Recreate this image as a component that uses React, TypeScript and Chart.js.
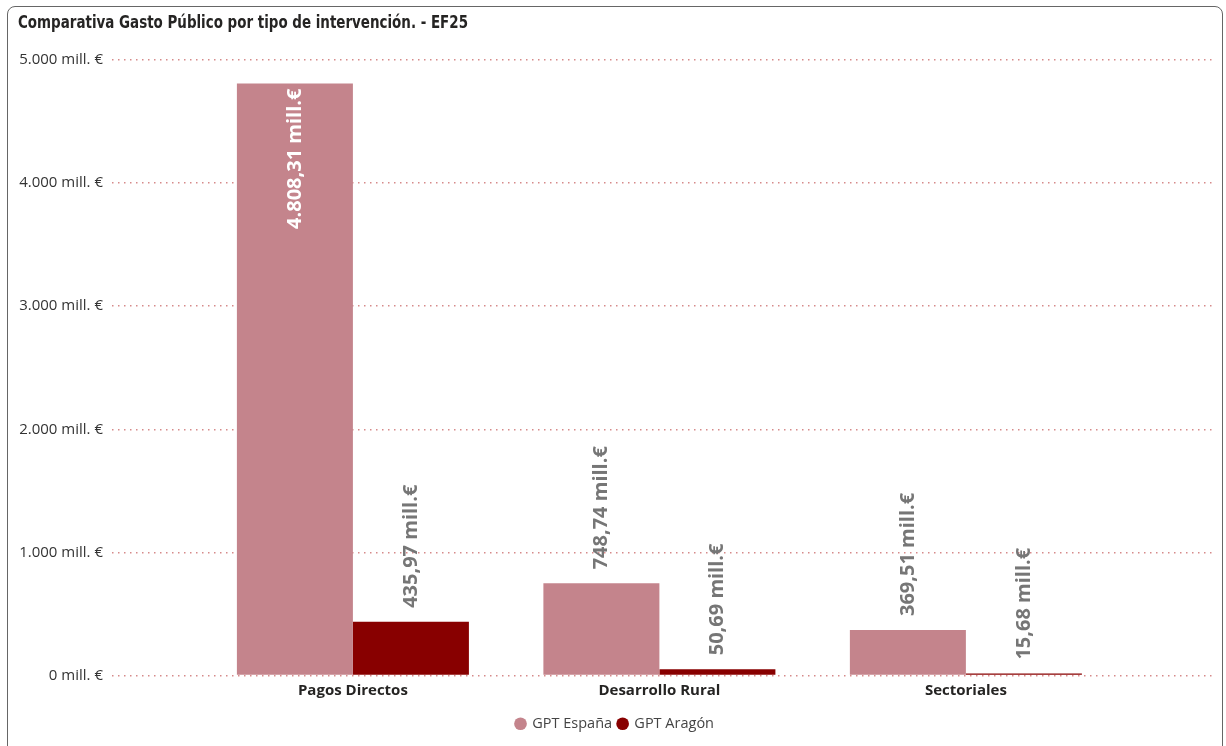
import React, { useEffect, useRef } from "react";
import { Chart, registerables } from "chart.js";
Chart.register(...registerables);

const titleText = "Comparativa Gasto Público por tipo de intervención. - EF25";
const categories = ["Pagos Directos", "Desarrollo Rural", "Sectoriales"];
const seriesNames = ["GPT España", "GPT Aragón"];
const gptEspana = [4808.31, 748.74, 369.51];
const gptAragon = [435.97, 50.69, 15.68];
const yTicks = [0, 1000, 2000, 3000, 4000, 5000];
const seriesColors = ["#c4848c", "#880000"];

function fmt(v: number, decimals: number): string {
  const fixed = v.toFixed(decimals);
  const parts = fixed.split(".");
  const intG = parts[0].replace(/\B(?=(\d{3})+(?!\d))/g, ".");
  return parts[1] ? intG + "," + parts[1] : intG;
}

const LABEL_FONT = "bold 20px 'Open Sans', sans-serif";

const barLabels = {
  id: "barLabels",
  afterDatasetsDraw(chart: any) {
    const ctx = chart.ctx;
    const area = chart.chartArea;
    ctx.save();
    ctx.font = LABEL_FONT;
    chart.data.datasets.forEach((ds: any, di: number) => {
      const meta = chart.getDatasetMeta(di);
      meta.data.forEach((el: any, i: number) => {
        const v = ds.data[i].y;
        const text = fmt(v, 2) + " mill.€";
        const w = ctx.measureText(text).width;
        const gap = 14;
        const x = el.x;
        const top = el.y;
        ctx.save();
        if (top - gap - w < area.top) {
          ctx.translate(x, top + 5 + w);
          ctx.fillStyle = "#ffffff";
        } else {
          ctx.translate(x, top - gap);
          ctx.fillStyle = "#767676";
        }
        ctx.rotate(-Math.PI / 2);
        ctx.textAlign = "left";
        ctx.textBaseline = "middle";
        ctx.fillText(text, 0, 0);
        ctx.restore();
      });
    });
    ctx.restore();
  },
};

const titlePlugin = {
  id: "panelTitle",
  beforeDraw(chart: any) {
    const ctx = chart.ctx;
    ctx.save();
    (ctx as any).fontStretch = "condensed";
    ctx.font = "bold 18px 'DejaVu Sans', sans-serif";
    const w = ctx.measureText(titleText).width;
    ctx.translate(10, 21);
    ctx.scale(450 / w, 1);
    ctx.fillStyle = "#252423";
    ctx.textAlign = "left";
    ctx.textBaseline = "alphabetic";
    ctx.fillText(titleText, 0, 0);
    ctx.restore();
  },
};

export default function App() {
  const ref = useRef<HTMLCanvasElement | null>(null);

  useEffect(() => {
    if (!ref.current) return;
    const chart = new Chart(ref.current, {
      type: "bar",
      data: {
        datasets: [
          {
            label: seriesNames[0],
            data: gptEspana.map((v, i) => ({ x: i, y: v })),
            backgroundColor: seriesColors[0],
            borderWidth: 0,
          },
          {
            label: seriesNames[1],
            data: gptAragon.map((v, i) => ({ x: i, y: v })),
            backgroundColor: seriesColors[1],
            borderWidth: 0,
          },
        ],
      },
      options: {
        responsive: false,
        animation: false,
        layout: { padding: { left: 10, right: 12, top: 53, bottom: 5 } },
        datasets: {
          bar: { categoryPercentage: 0.757, barPercentage: 1 },
        },
        scales: {
          x: {
            type: "linear",
            offset: false,
            min: -0.786,
            max: 2.803,
            grid: { display: false, drawTicks: false, offset: false },
            border: { display: false },
            afterBuildTicks: (scale: any) => {
              scale.ticks = categories.map((_, i) => ({ value: i }));
            },
            afterFit: (scale: any) => {
              scale.height = 35;
            },
            ticks: {
              autoSkip: false,
              maxRotation: 0,
              padding: 6,
              color: "#252423",
              font: { family: "'Open Sans', sans-serif", size: 15, weight: "bold" },
              callback: (v: any) => categories[v as number] ?? "",
            },
          },
          y: {
            min: 0,
            max: 5000,
            afterBuildTicks: (scale: any) => {
              scale.ticks = yTicks.map((v) => ({ value: v }));
            },
            afterFit: (scale: any) => {
              scale.width = 94;
            },
            grid: {
              color: "#d68a8a",
              lineWidth: 1.5,
              drawTicks: false,
            },
            border: { display: false, dash: [1.5, 4.5] },
            ticks: {
              padding: 9,
              color: "#333333",
              font: { family: "'Open Sans', sans-serif", size: 15 },
              callback: (v: any) => fmt(Number(v), 0) + " mill. €",
            },
          },
        },
        plugins: {
          title: { display: false },
          legend: {
            display: true,
            position: "bottom",
            labels: {
              usePointStyle: true,
              pointStyle: "circle",
              boxWidth: 9,
              boxHeight: 9,
              padding: 6,
              color: "#444444",
              font: { family: "'Open Sans', sans-serif", size: 14.5 },
            },
          },
          tooltip: { enabled: false },
        },
      },
      plugins: [barLabels, titlePlugin],
    } as any);
    return () => chart.destroy();
  }, []);

  return (
    <div style={{ position: "fixed", inset: 0, overflow: "hidden", background: "#fff" }}>
      <div
        style={{
          position: "absolute",
          left: 7,
          top: 6,
          width: 1216,
          height: 800,
          border: "1.5px solid #666",
          borderRadius: 8,
          boxSizing: "border-box",
        }}
      />
      <canvas
        ref={ref}
        width={1216}
        height={739}
        style={{ position: "absolute", left: 8, top: 7, width: 1216, height: 739 }}
      />
    </div>
  );
}
